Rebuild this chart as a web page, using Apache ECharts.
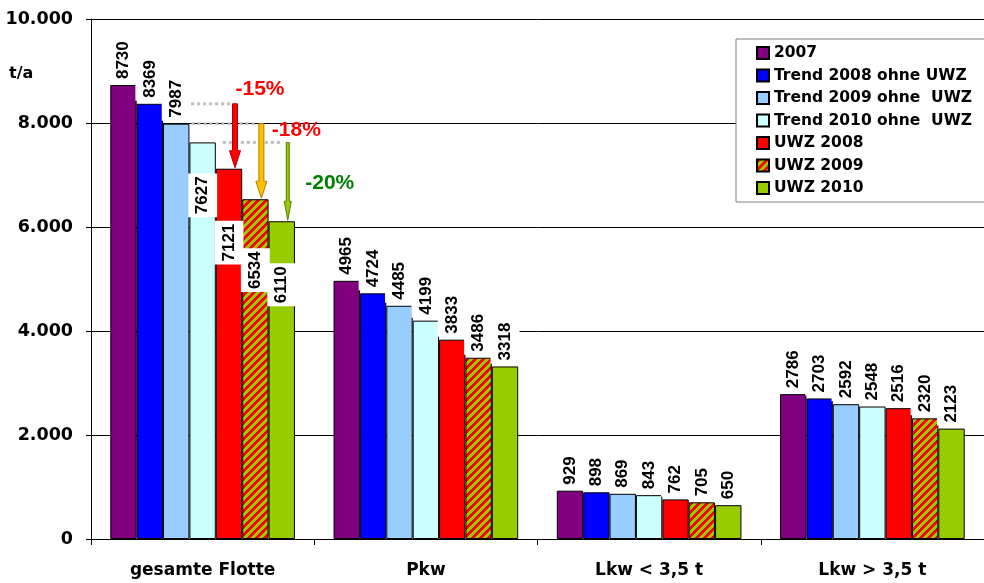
<!DOCTYPE html>
<html>
<head>
<meta charset="utf-8">
<script src="https://cdn.jsdelivr.net/npm/echarts@6/dist/echarts.min.js"></script>
<style>
  html, body { margin: 0; padding: 0; background: #fff; }
  #chart { width: 984px; height: 583px; }
</style>
</head>
<body>
<div id="chart"></div>
<script>
// Emissions by vehicle group, t/a
const categories = ['gesamte Flotte', 'Pkw', 'Lkw < 3,5 t', 'Lkw > 3,5 t'];
const seriesNames = ['2007', 'Trend 2008 ohne UWZ', 'Trend 2009 ohne  UWZ', 'Trend 2010 ohne  UWZ', 'UWZ 2008', 'UWZ 2009', 'UWZ 2010'];
const values2007 = [8730, 4965, 929, 2786];
const trend2008 = [8369, 4724, 898, 2703];
const trend2009 = [7987, 4485, 869, 2592];
const trend2010 = [7627, 4199, 843, 2548];
const uwz2008 = [7121, 3833, 762, 2516];
const uwz2009 = [6534, 3486, 705, 2320];
const uwz2010 = [6110, 3318, 650, 2123];
const yTicks = [0, 2000, 4000, 6000, 8000, 10000];
// reduction of each UWZ year against the trend of the same year (whole fleet)
const reductions = [
  { text: '-15%', trend: 1, uwz: 4 },
  { text: '-18%', trend: 2, uwz: 5 },
  { text: '-20%', trend: 3, uwz: 6 }
];

const allValues = [values2007, trend2008, trend2009, trend2010, uwz2008, uwz2009, uwz2010];

// striped fill for UWZ 2009
function stripePattern() {
  const n = 8;
  const c = document.createElement('canvas');
  c.width = n; c.height = n;
  const ctx = c.getContext('2d');
  const img = ctx.createImageData(n, n);
  for (let y = 0; y < n; y++) {
    for (let x = 0; x < n; x++) {
      const red = ((x + y) % n) < 4;
      const i = (y * n + x) * 4;
      img.data[i] = red ? 255 : 153;
      img.data[i + 1] = red ? 0 : 204;
      img.data[i + 2] = 0;
      img.data[i + 3] = 255;
    }
  }
  ctx.putImageData(img, 0, 0);
  return c;
}

const colors = ['#800080', '#0000FF', '#99CCFF', '#CCFFFF', '#FF0000', { image: stripePattern(), repeat: 'repeat' }, '#99CC00'];

const labelFont = { fontFamily: '"Liberation Sans", Arial, sans-serif', fontWeight: 'bold', fontSize: 17, color: '#000' };
const axisFont = { fontFamily: '"DejaVu Sans", sans-serif', fontWeight: 'bold', color: '#000' };

// labels of the lower fleet bars sit inside the bar, staggered downwards
const insideDistance = { 3: 31, 4: 52, 5: 49, 6: 42 };

const BAR_CAT_GAP = 0.173;

const series = allValues.map((vals, s) => ({
  name: seriesNames[s],
  type: 'bar',
  barGap: 0,
  barCategoryGap: (BAR_CAT_GAP * 100) + '%',
  itemStyle: { color: colors[s], borderColor: '#000', borderWidth: 1 },
  label: Object.assign({
    show: true,
    position: 'top',
    rotate: 90,
    align: 'left',
    verticalAlign: 'middle',
    distance: 3,
    backgroundColor: '#fff',
    padding: [6, 3, 6, 3]
  }, labelFont),
  data: vals.map((v, c) => {
    if (c === 0 && insideDistance[s] !== undefined) {
      return {
        value: v,
        label: { position: 'insideTop', align: 'right', distance: insideDistance[s] }
      };
    }
    return v;
  })
}));

const chart = echarts.init(document.getElementById('chart'), null, { renderer: 'canvas' });

chart.setOption({
  animation: false,
  backgroundColor: '#fff',
  grid: { left: 91, right: -11, top: 19, bottom: 44, containLabel: false },
  legend: {
    orient: 'vertical',
    left: 736,
    top: 39,
    padding: [6, 20, 6, 20],
    itemGap: 6.5,
    itemWidth: 12,
    itemHeight: 12,
    icon: 'rect',
    borderColor: '#808080',
    borderWidth: 1,
    backgroundColor: '#fff',
    textStyle: Object.assign({ fontSize: 15.5 }, axisFont),
    data: seriesNames
  },
  xAxis: {
    type: 'category',
    data: categories,
    axisLine: { lineStyle: { color: '#000', width: 1 } },
    axisTick: { show: true, length: 6, lineStyle: { color: '#000' } },
    axisLabel: Object.assign({ fontSize: 17, margin: 23 }, axisFont)
  },
  yAxis: {
    type: 'value',
    min: yTicks[0],
    max: yTicks[yTicks.length - 1],
    interval: yTicks[1] - yTicks[0],
    axisLine: { show: true, lineStyle: { color: '#000', width: 1 } },
    axisTick: { show: true, length: 5, lineStyle: { color: '#000' } },
    splitLine: { lineStyle: { color: '#000', width: 1 } },
    axisLabel: Object.assign({
      fontSize: 17.5,
      margin: 18,
      formatter: v => {
        if (v === 0) return '0';
        const th = Math.floor(v / 1000);
        const rest = String(v % 1000).padStart(3, '0');
        return th + '.' + rest;
      }
    }, axisFont)
  },
  series: series
});

// annotations for the whole fleet: dotted trend levels, arrows and percentages
function drawAnnotations() {
  const c0 = chart.convertToPixel({ xAxisIndex: 0 }, 0);
  const c1 = chart.convertToPixel({ xAxisIndex: 0 }, 1);
  const band = c1 - c0;
  const barW = band * (1 - BAR_CAT_GAP) / seriesNames.length;
  const barCenter = i => c0 + (i - (seriesNames.length - 1) / 2) * barW;
  const yPix = v => chart.convertToPixel({ yAxisIndex: 0 }, v);

  const arrowStyles = [
    { fill: '#FF0000', stroke: '#B00000', shaft: 5, head: 11, headLen: 17 },
    { fill: '#FFC000', stroke: '#B08000', shaft: 5, head: 11, headLen: 17 },
    { fill: '#99CC00', stroke: '#5A7A00', shaft: 3, head: 7, headLen: 19 }
  ];
  const textColors = ['#FF0000', '#FF0000', '#008000'];
  const lineStart = [16, 2, 7];
  const textOffset = [[25, -15], [35, 7], [42, 41]];

  const elements = [];
  reductions.forEach((r, k) => {
    const yFrom = yPix(allValues[r.trend][0]);
    const yTo = yPix(allValues[r.uwz][0]);
    const ax = barCenter(r.uwz) + 6;
    const st = arrowStyles[k];
    const trendRight = barCenter(r.trend) + barW / 2;

    elements.push({
      type: 'line',
      z: 1,
      shape: { x1: trendRight + lineStart[k], y1: yFrom, x2: ax - 5, y2: yFrom },
      style: { stroke: '#BFBFBF', lineWidth: 3, lineDash: [3, 3] }
    });

    const hs = st.shaft / 2, hh = st.head / 2, tip = yTo - 1, hy = tip - st.headLen;
    elements.push({
      type: 'polygon',
      z: 100,
      shape: {
        points: [
          [ax - hs, yFrom], [ax + hs, yFrom], [ax + hs, hy], [ax + hh, hy],
          [ax, tip], [ax - hh, hy], [ax - hs, hy]
        ]
      },
      style: { fill: st.fill, stroke: st.stroke, lineWidth: 1 }
    });

    elements.push({
      type: 'text',
      z: 100,
      x: ax + textOffset[k][0],
      y: yFrom + textOffset[k][1],
      style: {
        text: r.text,
        fill: textColors[k],
        font: 'bold 21px "Liberation Sans", Arial, sans-serif',
        align: 'center',
        verticalAlign: 'middle'
      }
    });
  });

  elements.push({
    type: 'text',
    left: 9,
    top: 66,
    style: { text: 't/a', fill: '#000', font: 'bold 16px "DejaVu Sans", sans-serif' }
  });

  chart.setOption({ graphic: { elements: elements } });
}

drawAnnotations();
</script>
</body>
</html>
